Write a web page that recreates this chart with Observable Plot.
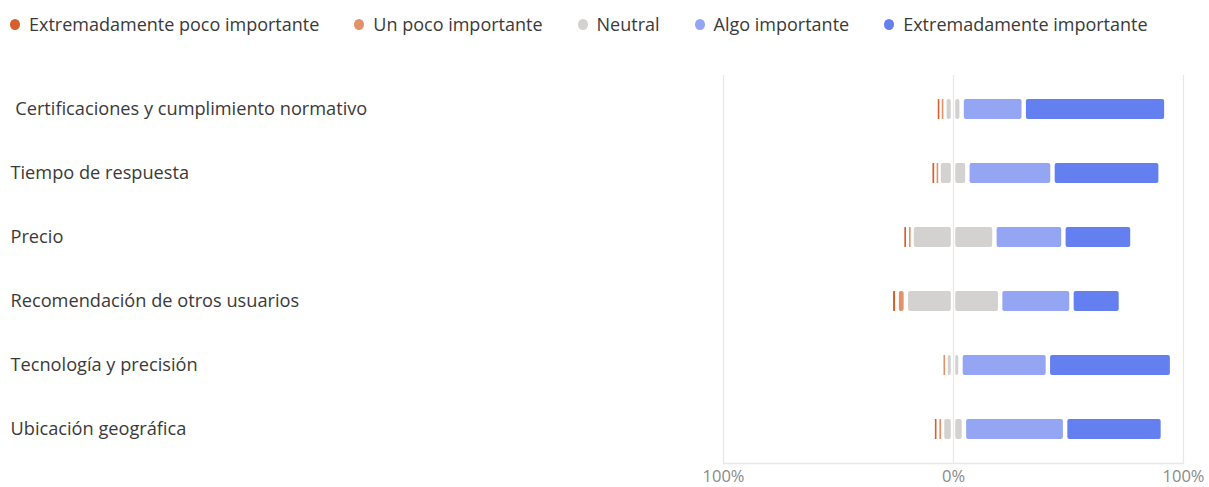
<!DOCTYPE html>
<html>
<head>
<meta charset="utf-8">
<script src="https://cdn.jsdelivr.net/npm/d3@7"></script>
<script src="https://cdn.jsdelivr.net/npm/@observablehq/plot@0.6"></script>
<style>
  html, body { margin: 0; padding: 0; background: #fff; }
  body { width: 1209px; height: 487px; overflow: hidden; font-family: "Open Sans", "Noto Sans", sans-serif; }
  #legend { height: 40px; padding-top: 8px; display: flex; align-items: center; padding-left: 10px; box-sizing: border-box; font-size: 18px; color: #3a3a3a; }
  #legend .item { display: flex; align-items: center; margin-right: 35px; white-space: nowrap; }
  #legend .dot { width: 10px; height: 11px; border-radius: 50%; margin-right: 9px; }
  #chart svg { display: block; }
</style>
</head>
<body>
<div id="legend"></div>
<div id="chart"></div>
<script>
const categories = [" Certificaciones y cumplimiento normativo", "Tiempo de respuesta", "Precio", "Recomendación de otros usuarios", "Tecnología y precisión", "Ubicación geográfica"];
const levels = ["Extremadamente poco importante", "Un poco importante", "Neutral", "Algo importante", "Extremadamente importante"];
const colors = ["#d5602a", "#e2916b", "#d3d2d0", "#94a6f3", "#647ff0"];
const extremadamentePoco = [1.5, 2, 2, 2.5, 0, 2];
const unPoco = [2, 1.5, 2, 4, 1.5, 2];
const neutral = [7.5, 12.5, 36, 41, 6.5, 9.5];
const algo = [27, 37, 30, 31, 38, 44];
const extremadamente = [62, 47, 30, 21.5, 54, 42.5];
const xTicks = [-100, 0, 100];

// diverging stack: neutral split around zero
const segments = [];
categories.forEach((cat, i) => {
  const half = neutral[i] / 2;
  let left = -half;
  segments.push({cat, level: levels[2], value: half, x1: -half, x2: 0});
  segments.push({cat, level: levels[1], value: unPoco[i], x1: left - unPoco[i], x2: left});
  left -= unPoco[i];
  segments.push({cat, level: levels[0], value: extremadamentePoco[i], x1: left - extremadamentePoco[i], x2: left});
  let right = half;
  segments.push({cat, level: levels[2], value: half, x1: 0, x2: half});
  segments.push({cat, level: levels[3], value: algo[i], x1: right, x2: right + algo[i]});
  right += algo[i];
  segments.push({cat, level: levels[4], value: extremadamente[i], x1: right, x2: right + extremadamente[i]});
});
const visible = segments.filter(d => d.value > 0);
const tiny = visible.filter(d => d.value < 2.6 && d.level !== levels[2]);

// legend
const legend = d3.select("#legend");
levels.forEach((l, i) => {
  const it = legend.append("div").attr("class", "item");
  it.append("div").attr("class", "dot").style("background", colors[i]);
  it.append("span").text(l);
});

const plot = Plot.plot({
  width: 1209,
  height: 447,
  marginLeft: 723,
  marginRight: 26,
  marginTop: 35,
  marginBottom: 24,
  style: {fontFamily: "'Open Sans', 'Noto Sans', sans-serif", background: "#fff", overflow: "visible"},
  x: {domain: [-100, 100], axis: null},
  y: {domain: categories, paddingInner: 0.69, paddingOuter: 0.345, axis: null},
  color: {domain: levels, range: colors},
  marks: [
    Plot.ruleX(xTicks, {stroke: "#e8e8e8", strokeWidth: 1.3}),
    Plot.frame({anchor: "bottom", stroke: "#e8e8e8", strokeWidth: 1.3}),
    Plot.barX(visible, {x1: "x1", x2: "x2", y: "cat", fill: "level", insetLeft: 2.2, insetRight: 2.2, rx: 2}),
    Plot.tickX(tiny, {x: d => (d.x1 + d.x2) / 2, y: "cat", stroke: "level", strokeWidth: 1.6}),
    Plot.axisX(xTicks, {tickSize: 0, tickPadding: 7, tickFormat: d => Math.abs(d) + "%", fontSize: 16.5, fill: "#8a8a8a"}),
    Plot.text(categories, {y: d => d, text: d => d, frameAnchor: "left", textAnchor: "start", dx: -713, fontSize: 18.2, fill: "#3a3a3a"})
  ]
});
document.getElementById("chart").appendChild(plot);
d3.select(plot).selectAll("g[aria-label='text'] text").style("white-space", "pre");
</script>
</body>
</html>
